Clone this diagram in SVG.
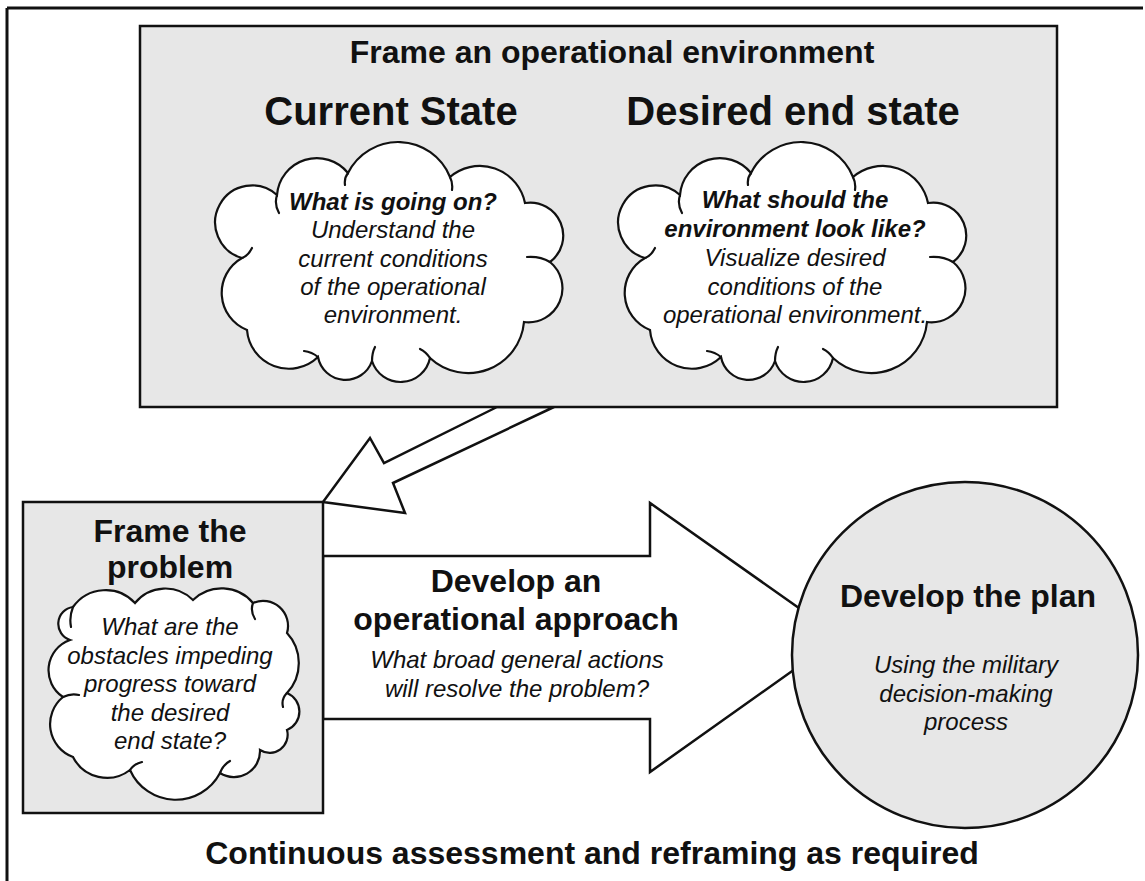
<svg xmlns="http://www.w3.org/2000/svg" xmlns:xlink="http://www.w3.org/1999/xlink" width="1145" height="881" viewBox="0 0 1145 881">
<style>
  .panel { fill: #e7e7e7; stroke: #111; stroke-width: 2.5; }
  .hollow { fill: #ffffff; stroke: #111; stroke-width: 2.5; stroke-linejoin: miter; }
  .cloud { fill: #ffffff; stroke: #111; stroke-width: 2.2; }
  .curl { fill: none; stroke: #111; stroke-width: 2.2; stroke-linecap: round; }
  .frameline { stroke: #111; stroke-width: 3; fill: none; }
  text { font-family: "Liberation Sans", Arial, sans-serif; fill: #111; text-anchor: middle; }
  .b32 { font-weight: bold; font-size: 32px; }
  .b40 { font-weight: bold; font-size: 40px; }
  .bi24 { font-weight: bold; font-style: italic; font-size: 24px; }
  .i24 { font-style: italic; font-size: 24px; }
</style>
<defs>
  <g id="cloudShape">
    <path class="cloud" d="M242,258 A37,37 0 1 1 277,195 A40,40 0 0 1 348,173 A56,56 0 0 1 450,177 A46,46 0 0 1 525,203 A33,33 0 0 1 550,262 A34,34 0 0 1 524,322 A56,56 0 0 1 430,358 A30,30 0 0 1 372,361 A28,28 0 0 1 318,357 A42,42 0 0 1 247,330 A40,40 0 0 1 242,258 Z"/>
    <path class="curl" d="M277,195 q-3,9 2,18 M348,173 q-4,5 -3,12 M450,177 q3,6 2,13 M550,262 q-10,-6 -23,-5 M430,358 q-4,-6 -10,-9 M372,361 q0,-8 3,-14 M318,357 q-6,-5 -14,-6 M242,258 q6,-2 10,-10"/>
  </g>
</defs>

<g id="outer-frame">
  <line class="frameline" x1="7" y1="8" x2="1143" y2="8"/>
  <line class="frameline" x1="7" y1="8" x2="7" y2="881"/>
</g>

<g id="connectors">
  <polygon id="arrow-env-to-problem" class="hollow" points="497,407 384,463 370,438 323,502 405,513 393,483 554,407"/>
  <polygon id="arrow-approach" class="hollow" points="323,556 650,556 650,503 840,637 650,772 650,719 323,719"/>
  <text class="b32" x="516" y="592">Develop an</text>
  <text class="b32" x="516" y="630">operational approach</text>
  <text class="i24" x="517" y="668">What broad general actions</text>
  <text class="i24" x="517" y="697">will resolve the problem?</text>
</g>

<g id="frame-environment">
  <rect class="panel" x="140" y="26" width="917" height="381"/>
  <text class="b32" x="612" y="63">Frame an operational environment</text>
</g>

<g id="current-state">
  <text class="b40" x="391" y="125">Current State</text>
  <use xlink:href="#cloudShape" href="#cloudShape"/>
  <text class="bi24" x="393" y="210">What is going on?</text>
  <text class="i24" x="393" y="238">Understand the</text>
  <text class="i24" x="393" y="267">current conditions</text>
  <text class="i24" x="393" y="295">of the operational</text>
  <text class="i24" x="393" y="323">environment.</text>
</g>

<g id="desired-end-state">
  <text class="b40" x="793" y="125">Desired end state</text>
  <use xlink:href="#cloudShape" href="#cloudShape" transform="translate(403,0)"/>
  <text class="bi24" x="795" y="208">What should the</text>
  <text class="bi24" x="795" y="237">environment look like?</text>
  <text class="i24" x="795" y="266">Visualize desired</text>
  <text class="i24" x="795" y="295">conditions of the</text>
  <text class="i24" x="795" y="323">operational environment.</text>
</g>

<g id="frame-problem">
  <rect class="panel" x="23" y="502" width="300" height="311"/>
  <text class="b32" x="170" y="542">Frame the</text>
  <text class="b32" x="170" y="578">problem</text>
  <path class="cloud" d="M73,607 A40,40 0 0 1 135,603 A39,39 0 0 1 193,600 A41,41 0 0 1 253,603 A25,25 0 0 1 287,633 A44,44 0 0 1 287,693 A20,20 0 0 1 287,730 A18,18 0 0 1 260,750 A26,26 0 0 1 220,773 A50,50 0 0 1 130,770 A38,38 0 0 1 73,757 A35,35 0 0 1 63,697 A32,32 0 0 1 70,640 A17,17 0 0 1 73,607 Z"/>
  <path class="curl" d="M73,607 q-4,10 -2,20 M253,603 q-3,8 2,16 M287,693 q-6,6 -4,14 M220,773 q3,-8 10,-12 M130,770 q4,-6 12,-8 M63,697 q8,-4 16,-2"/>
  <text class="i24" x="170" y="635">What are the</text>
  <text class="i24" x="170" y="664">obstacles impeding</text>
  <text class="i24" x="170" y="692">progress toward</text>
  <text class="i24" x="170" y="721">the desired</text>
  <text class="i24" x="170" y="749">end state?</text>
</g>

<g id="develop-plan">
  <circle class="panel" cx="965" cy="655" r="173"/>
  <text class="b32" x="968" y="607">Develop the plan</text>
  <text class="i24" x="966" y="673">Using the military</text>
  <text class="i24" x="966" y="702">decision-making</text>
  <text class="i24" x="966" y="730">process</text>
</g>

<g id="assessment">
  <text class="b32" x="592" y="864">Continuous assessment and reframing as required</text>
</g>
</svg>
